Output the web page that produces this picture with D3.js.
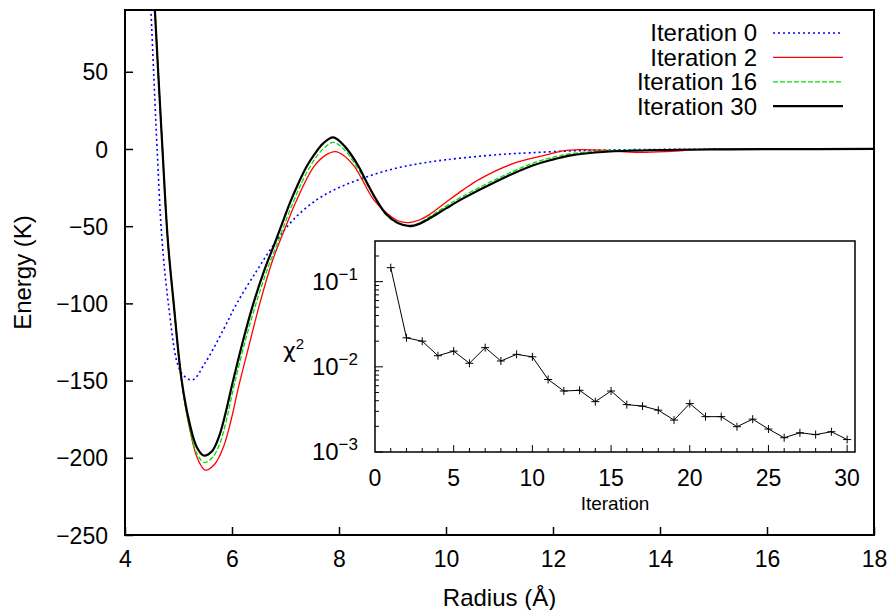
<!DOCTYPE html>
<html>
<head>
<meta charset="utf-8">
<script src="https://cdn.jsdelivr.net/npm/d3@7"></script>
<style>
    body { margin: 0; background: #fff; }
    svg { display: block; }
    text { font-family: 'Liberation Sans', Arial, Helvetica, sans-serif; fill: #000; }
</style>
</head>
<body>
<svg id="chart" width="889" height="610"></svg>
<script>
// Potential curves, [radius (Å), energy (K)]
const iter0 = [
    [4.46, 110], [4.485, 90], [4.535, 50], [4.60, 0], [4.69, -58], [4.81, -100],
    [4.98, -139], [5.09, -146.5], [5.26, -149.6], [5.49, -139], [5.84, -117],
    [6.09, -100], [6.46, -79], [6.80, -61], [7.14, -46], [7.58, -33], [8.0, -25],
    [8.48, -18.5], [9.0, -13], [9.5, -9.5], [10.0, -7], [11.0, -3.6], [11.56, -2.5],
    [12.3, -1.3], [13.0, -0.7], [14.0, -0.3], [16.0, 0], [18.0, 0]
];
const iter2 = [
    [4.50, 125], [4.56, 89], [4.62, 50], [4.70, 0], [4.80, -59], [4.91, -100],
    [5.06, -151], [5.22, -183], [5.35, -200], [5.50, -208], [5.68, -204],
    [5.84, -193], [5.98, -176], [6.13, -153], [6.32, -127], [6.52, -100], [6.75, -73],
    [6.99, -51.5], [7.21, -33], [7.53, -11.5], [7.75, -4], [7.93, -1.7], [8.10, -4.5],
    [8.29, -11.5], [8.42, -19], [8.65, -33], [8.89, -41.5], [9.10, -46.5], [9.30, -47.7],
    [9.50, -46], [9.69, -42.5], [10.0, -34.5], [10.32, -26.5], [10.63, -19.5],
    [11.25, -9.5], [11.87, -3.9], [12.18, -1.2], [12.5, -0.4], [13.0, -1], [13.6, -2.2],
    [14.2, -1.5], [14.7, -0.4], [15.5, 0], [18.0, 0]
];
const iter16 = [
    [4.50, 125], [4.56, 89], [4.62, 50], [4.70, 0], [4.80, -59], [4.91, -100],
    [5.06, -151], [5.21, -181], [5.34, -197], [5.48, -203], [5.63, -200], [5.77, -191],
    [5.90, -175], [6.04, -153], [6.25, -124], [6.45, -100], [6.66, -78], [6.85, -61],
    [7.00, -47], [7.15, -34], [7.30, -22], [7.45, -12], [7.60, -4], [7.75, 1.5],
    [7.90, 4.3], [8.10, -0.5], [8.35, -12.5], [8.47, -19.5], [8.70, -33.5], [8.89, -43],
    [9.10, -48], [9.32, -49.5], [9.50, -48], [9.69, -44], [10.0, -37], [10.32, -30.5],
    [10.94, -19.5], [11.56, -10], [11.93, -6], [12.31, -3.2], [13.0, -1.2], [14.0, -0.6],
    [15.0, -0.3], [16.0, -0.1], [18.0, 0]
];
const iter30 = [
    [4.50, 128], [4.56, 89], [4.62, 50], [4.70, 0], [4.80, -59], [4.91, -100],
    [5.06, -150], [5.21, -178], [5.34, -193], [5.47, -198.5], [5.62, -196], [5.75, -187],
    [5.88, -171], [6.0, -153], [6.2, -125], [6.40, -100], [6.61, -78], [6.80, -61],
    [6.95, -47], [7.10, -33.5], [7.25, -21.5], [7.40, -11], [7.55, -3], [7.70, 3.5],
    [7.89, 7.5], [8.10, 2], [8.37, -11.5], [8.48, -19], [8.70, -33], [8.89, -42.5],
    [9.10, -48], [9.32, -50], [9.50, -48.5], [9.69, -45], [10.0, -38.5], [10.32, -32],
    [10.94, -21], [11.56, -11.5], [11.93, -7.5], [12.31, -4.3], [13.0, -1.8], [14.0, -0.7],
    [15.0, -0.3], [16.0, -0.1], [18.0, 0]
];

const seriesNames = ['Iteration 0', 'Iteration 2', 'Iteration 16', 'Iteration 30'];
const xTicks = [4, 6, 8, 10, 12, 14, 16, 18];
const yTicks = [-250, -200, -150, -100, -50, 0, 50];

// Inset: chi^2 per iteration
const iterations = d3.range(1, 31);
const chi2 = [
    0.146, 0.0219, 0.020, 0.0135, 0.0153, 0.011, 0.0168, 0.0117, 0.014, 0.0131,
    0.0071, 0.0052, 0.0053, 0.0039, 0.0052, 0.0036, 0.00346, 0.0031, 0.00237, 0.0037,
    0.0026, 0.0026, 0.00198, 0.00243, 0.00186, 0.00147, 0.00168, 0.0016, 0.00173, 0.0014
];
const insetXTicks = [0, 5, 10, 15, 20, 25, 30];
const insetYTicks = [1e-3, 1e-2, 1e-1];

const styles = [
    { color: '#0000ff', width: 1.6, dash: '2,3' },
    { color: '#ff0000', width: 1.3, dash: null },
    { color: '#00e000', width: 1.3, dash: '5,2' },
    { color: '#000000', width: 2.2, dash: null }
];

const svg = d3.select('#chart');
const FONT = 23;

const x = d3.scaleLinear().domain([4, 18]).range([125, 874]);
const y = d3.scaleLinear().domain([-250, 90]).range([535, 10]);

svg.append('clipPath').attr('id', 'plot-clip')
    .append('rect')
    .attr('x', x(4)).attr('y', y(90))
    .attr('width', x(18) - x(4)).attr('height', y(-250) - y(90));

// Curves
const line = d3.line()
    .x(d => x(d[0]))
    .y(d => y(d[1]))
    .curve(d3.curveCatmullRom.alpha(0.5));

const curves = svg.append('g').attr('clip-path', 'url(#plot-clip)');
[iter0, iter2, iter16, iter30].forEach((data, i) => {
    curves.append('path')
        .attr('d', line(data))
        .attr('fill', 'none')
        .attr('stroke', styles[i].color)
        .attr('stroke-width', styles[i].width)
        .attr('stroke-dasharray', styles[i].dash);
});

// Axes, ticks inward
const xAxis = svg.append('g').attr('transform', `translate(0,${y(-250)})`)
    .call(d3.axisBottom(x).tickValues(xTicks).tickSizeInner(-8).tickSizeOuter(0).tickPadding(16)
        .tickFormat(d3.format('d')));
const yAxis = svg.append('g').attr('transform', `translate(${x(4)},0)`)
    .call(d3.axisLeft(y).tickValues(yTicks).tickSizeInner(-8).tickSizeOuter(0).tickPadding(17)
        .tickFormat(d => d < 0 ? '\u2212' + Math.abs(d) : d));
[xAxis, yAxis].forEach(a => {
    a.select('.domain').remove();
    a.selectAll('.tick line').attr('stroke', '#000').attr('stroke-width', 1.5);
    a.selectAll('.tick text').style('font-size', FONT + 'px').attr('fill', '#000');
});
yAxis.selectAll('.tick text').attr('dy', '0.35em');

svg.append('rect')
    .attr('x', x(4)).attr('y', y(90))
    .attr('width', x(18) - x(4)).attr('height', y(-250) - y(90))
    .attr('fill', 'none').attr('stroke', '#000').attr('stroke-width', 2);

svg.append('text')
    .attr('x', (x(4) + x(18)) / 2).attr('y', 606)
    .attr('text-anchor', 'middle')
    .style('font-size', '24px')
    .text('Radius (Å)');

svg.append('text')
    .attr('transform', `translate(31,${(y(90) + y(-250)) / 2}) rotate(-90)`)
    .attr('text-anchor', 'middle')
    .style('font-size', '24px')
    .text('Energy (K)');

// Legend
const legend = svg.append('g');
seriesNames.forEach((name, i) => {
    const ly = 33 + i * 24.4;
    legend.append('text')
        .attr('x', 757).attr('y', ly).attr('dy', '0.35em')
        .attr('text-anchor', 'end')
        .style('font-size', '24px')
        .text(name);
    legend.append('line')
        .attr('x1', 773).attr('x2', 843).attr('y1', ly).attr('y2', ly)
        .attr('stroke', styles[i].color)
        .attr('stroke-width', styles[i].width)
        .attr('stroke-dasharray', styles[i].dash);
});

// Inset
const ix = d3.scaleLinear().domain([0, 30.5]).range([375, 855]);
const iy = d3.scaleLog().domain([1e-3, 0.3]).range([452, 241]);
const inset = svg.append('g');

inset.append('rect')
    .attr('x', ix(0)).attr('y', iy(0.3))
    .attr('width', ix(30.5) - ix(0)).attr('height', iy(1e-3) - iy(0.3))
    .attr('fill', '#fff');

// minor log ticks on the left
const minorY = [];
[1e-3, 1e-2, 1e-1].forEach(dec => {
    for (let k = 2; k <= 9; k++) { if (dec * k <= 0.3) minorY.push(dec * k); }
});
inset.selectAll('.minor-y').data(minorY).enter().append('line')
    .attr('x1', ix(0)).attr('x2', ix(0) + 4)
    .attr('y1', d => iy(d)).attr('y2', d => iy(d))
    .attr('stroke', '#000').attr('stroke-width', 1);
inset.selectAll('.major-y').data(insetYTicks).enter().append('line')
    .attr('x1', ix(0)).attr('x2', ix(0) + 8)
    .attr('y1', d => iy(d)).attr('y2', d => iy(d))
    .attr('stroke', '#000').attr('stroke-width', 1);
inset.selectAll('.tick-x').data(d3.range(1, 31)).enter().append('line')
    .attr('x1', d => ix(d)).attr('x2', d => ix(d))
    .attr('y1', iy(1e-3)).attr('y2', d => iy(1e-3) - (d % 5 === 0 ? 7 : 4))
    .attr('stroke', '#000').attr('stroke-width', 1);

const yLabels = inset.selectAll('.ylab').data(insetYTicks).enter().append('text')
    .attr('x', ix(0) - 17).attr('y', d => iy(d) + 8)
    .attr('text-anchor', 'end')
    .style('font-size', '24px');
yLabels.append('tspan').text('10');
yLabels.append('tspan').attr('dy', -10).style('font-size', '17px')
    .text(d => '\u2212' + Math.round(-Math.log10(d)));

inset.selectAll('.xlab').data(insetXTicks).enter().append('text')
    .attr('x', d => ix(d)).attr('y', 486)
    .attr('text-anchor', 'middle')
    .style('font-size', FONT + 'px')
    .text(d => d);

inset.append('text')
    .attr('x', (ix(0) + ix(30.5)) / 2).attr('y', 510)
    .attr('text-anchor', 'middle')
    .style('font-size', '19px')
    .text('Iteration');

const chiLabel = inset.append('text')
    .attr('x', 283).attr('y', 358)
    .style('font-size', '22px');
chiLabel.append('tspan').style('font-family', "'DejaVu Sans', sans-serif").text('χ');
chiLabel.append('tspan').attr('dy', -9).style('font-size', '15px').text('2');

// chi^2 line with + markers
const chiLine = d3.line()
    .x((d, i) => ix(iterations[i]))
    .y(d => iy(d));
inset.append('path')
    .attr('d', chiLine(chi2))
    .attr('fill', 'none').attr('stroke', '#000').attr('stroke-width', 1);
inset.selectAll('.pt').data(chi2).enter().append('path')
    .attr('d', (d, i) => {
        const px = ix(iterations[i]), py = iy(d), s = 4;
        return `M${px - s},${py}H${px + s}M${px},${py - s}V${py + s}`;
    })
    .attr('stroke', '#000').attr('stroke-width', 1);

inset.append('rect')
    .attr('x', ix(0)).attr('y', iy(0.3))
    .attr('width', ix(30.5) - ix(0)).attr('height', iy(1e-3) - iy(0.3))
    .attr('fill', 'none').attr('stroke', '#000').attr('stroke-width', 1.5);
</script>
</body>
</html>
